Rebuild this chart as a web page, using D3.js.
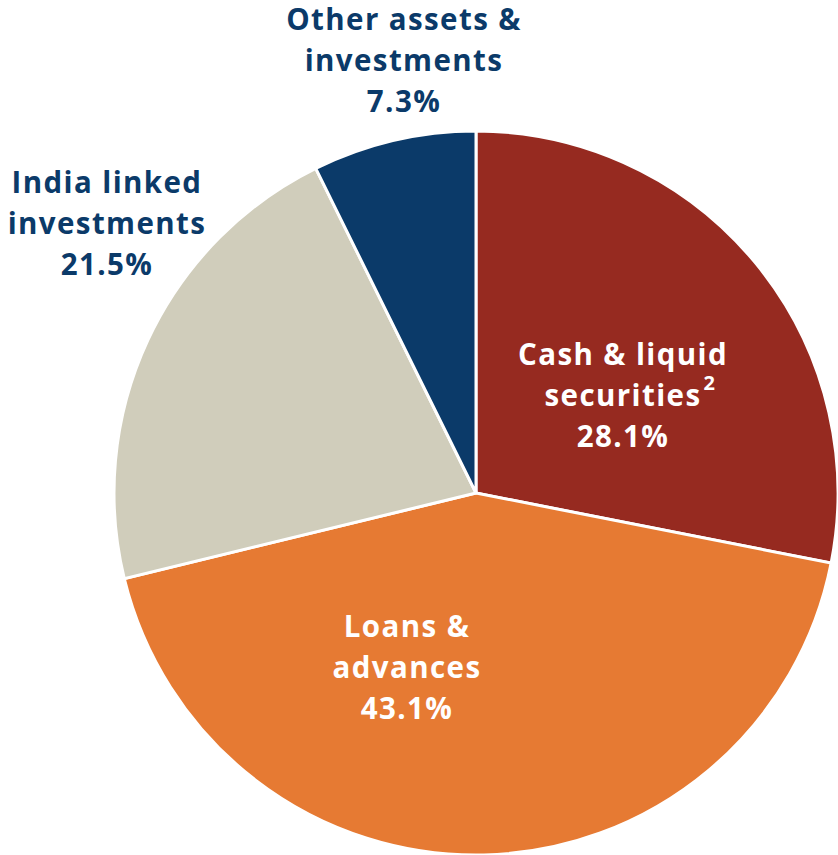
<!DOCTYPE html>
<html><head><meta charset="utf-8">
<script src="https://cdn.jsdelivr.net/npm/d3@7"></script>
<style>body{margin:0;background:#fff}svg{display:block}text{font-family:"Open Sans",sans-serif;font-weight:700}</style>
</head><body>
<svg id="c" width="838" height="855"></svg>
<script>
const categories = ["Cash & liquid securities", "Loans & advances", "India linked investments", "Other assets & investments"];
const values = [28.1, 43.1, 21.5, 7.3];
const colors = ["#962a20", "#e67a33", "#d0cdbb", "#0b3a69"];
const labelLines = [["Cash & liquid", "securities", "28.1%"], ["Loans &", "advances", "43.1%"], ["India linked", "investments", "21.5%"], ["Other assets &", "investments", "7.3%"]];

const svg = d3.select("#c");
const cx = 476, cy = 493, R = 362;
const pie = d3.pie().sort(null).value(d => d)(values);
const arc = d3.arc().innerRadius(0).outerRadius(R);
const g = svg.append("g").attr("transform", `translate(${cx},${cy})`);
g.selectAll("path").data(pie).join("path")
  .attr("d", arc).attr("fill", (d, i) => colors[i])
  .attr("stroke", "#fff").attr("stroke-width", 3);

const labelPos = [
  {x: 623, y: 365, fill: "#fff"},
  {x: 407, y: 637, fill: "#fff"},
  {x: 107, y: 193, fill: "#0b3a69"},
  {x: 404, y: 30, fill: "#0b3a69"}
];
const lh = 40.8;
let secEnd = 0;
labelLines.forEach((lines, i) => {
  const p = labelPos[i];
  const t = svg.append("text").attr("text-anchor", "middle").attr("fill", p.fill)
    .attr("font-size", 29.5).attr("letter-spacing", 1.4);
  lines.forEach((l, j) => {
    const ts = t.append("tspan").attr("x", p.x).attr("y", p.y + j * lh).text(l);
    if (i === 0 && j === 1) secEnd = p.x + ts.node().getComputedTextLength() / 2;
  });
});
// superscript footnote
svg.append("text").attr("x", secEnd + 2).attr("y", 390).attr("fill", "#fff")
  .attr("font-size", 20).attr("text-anchor", "start").text("2");
</script>
</body></html>
